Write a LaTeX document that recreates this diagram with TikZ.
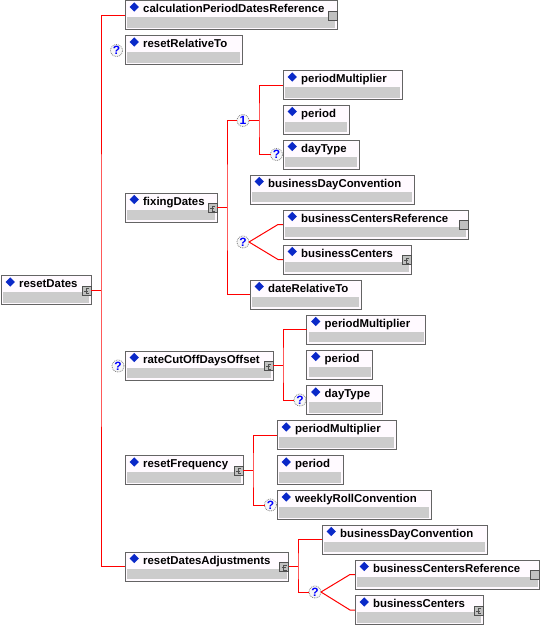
\documentclass[tikz,border=0pt]{standalone}
\usepackage{fontspec}
\setmainfont{Liberation Sans}
\definecolor{bordc}{RGB}{100,100,100}
\definecolor{topc}{RGB}{255,250,255}
\definecolor{bandc}{RGB}{204,204,204}
\definecolor{redc}{RGB}{255,0,0}
\definecolor{diamc}{RGB}{10,40,200}
\definecolor{iconc}{RGB}{192,192,192}
\definecolor{iconb}{RGB}{80,80,80}
\definecolor{qblue}{RGB}{0,0,255}
\tikzset{
  elem/.style={draw=bordc, fill=topc, line width=1pt, minimum height=29pt, inner sep=0pt, outer sep=0pt, anchor=north west},
  band/.style={fill=bandc},
  diam/.style={fill=diamc},
  lbl/.style={anchor=base west, inner sep=0pt, font=\bfseries\fontsize{11.4}{13}\selectfont},
  conn/.style={draw=redc, line width=1pt},
  icon/.style={draw=iconb, fill=iconc, line width=0.8pt},
  glyph/.style={draw=iconb, line width=0.8pt},
  occ/.style={circle, draw=gray, densely dotted, line width=0.8pt, fill=white!94!gray, minimum size=12pt, inner sep=0pt, outer sep=0pt, text=qblue, font=\bfseries\fontsize{12}{12}\selectfont}
}
\newcommand{\elem}[5]{%
  \node[elem, minimum width=#4pt] (#1) at (#2,#3) {};
  \fill[band] ([shift={(2,16.5)}]#1.north west) rectangle ([shift={(-2,-2)}]#1.south east);
  \fill[diam] ([shift={(9.3,6.5)}]#1.north west) +(-4.6,0) -- +(0,-4.6) -- +(4.6,0) -- +(0,4.6) -- cycle;
  \node[lbl] (#1-t) at ([shift={(18,12)}]#1.north west) {#5};
}
\newcommand{\expicon}[1]{%
  \draw[icon] ([shift={(-9,10.5)}]#1.north east) rectangle ++(9,9);
  \draw[glyph] ([shift={(-2,13)}]#1.north east) -- ++(-3,0) -- ++(0,5) -- ++(3,0);
  \draw[glyph] ([shift={(-7,15.5)}]#1.north east) -- ++(4,0);
}
\newcommand{\refico}[1]{%
  \draw[icon] ([shift={(-9,10.5)}]#1.north east) rectangle ++(9,9);
}
\begin{document}
\begin{tikzpicture}[x=1pt,y=-1pt]
\fill[white] (0,0) rectangle (540,625);
\useasboundingbox (0,0) rectangle (540,625);

\elem{resetDates}{1}{275.5}{90}{resetDates}
\expicon{resetDates}

\elem{calcRef}{125}{0.5}{212}{calculationPeriodDatesReference}
\refico{calcRef}
\elem{resetRelativeTo}{125}{35.5}{117}{resetRelativeTo}
\node[occ] (q0) at (116.5,50.5) {?};

\elem{fixingDates}{125}{193}{92}{fixingDates}
\expicon{fixingDates}
\node[occ] (c1) at (243,120.5) {1};
\elem{pm1}{283}{70.5}{119}{periodMultiplier}
\elem{per1}{283}{105}{66}{period}
\elem{dt1}{283}{140}{76}{dayType}
\node[occ] (q1) at (276.5,154.5) {?};
\elem{bdc1}{250}{175}{164}{businessDayConvention}
\node[occ] (q2) at (243,242) {?};
\elem{bcr1}{283}{210}{185}{businessCentersReference}
\refico{bcr1}
\elem{bc1}{283}{245}{128}{businessCenters}
\expicon{bc1}
\elem{drt}{250}{280}{111}{dateRelativeTo}

\elem{rco}{125}{351}{148}{rateCutOffDaysOffset}
\expicon{rco}
\node[occ] (q3) at (118,366) {?};
\elem{pm2}{306.5}{315}{119}{periodMultiplier}
\elem{per2}{306.5}{350}{66}{period}
\elem{dt2}{306.5}{385.5}{76}{dayType}
\node[occ] (q4) at (300,400) {?};

\elem{rf}{125}{455.5}{118}{resetFrequency}
\expicon{rf}
\elem{pm3}{277}{420.5}{119}{periodMultiplier}
\elem{per3}{277}{455.5}{66}{period}
\elem{wrc}{277}{490.5}{154}{weeklyRollConvention}
\node[occ] (q5) at (270.5,505) {?};

\elem{rda}{125}{552}{163.5}{resetDatesAdjustments}
\expicon{rda}
\elem{bdc2}{322}{525}{165}{businessDayConvention}
\node[occ] (q6) at (315,592) {?};
\elem{bcr2}{355}{560}{184.5}{businessCentersReference}
\refico{bcr2}
\elem{bc2}{355}{595.5}{128}{businessCenters}
\expicon{bc2}

% connectors
\coordinate (mb) at (101,290);
\draw[conn] (resetDates.east) -- (mb);
\draw[conn] (calcRef.west) -| (mb) |- (rda.west);

\coordinate (fb) at (227,207.5);
\draw[conn] (fixingDates.east) -- (fb);
\draw[conn] (c1.west) -| (fb) |- (drt.west);
\coordinate (fb1) at (259,120.5);
\draw[conn] (c1.east) -- (fb1);
\draw[conn] (pm1.west) -| (fb1) |- (q1.west);
\draw[conn] (q2.east) -- ([xshift=-5pt]bcr1.west) -- (bcr1.west);
\draw[conn] (q2.east) -- ([xshift=-5pt]bc1.west) -- (bc1.west);

\coordinate (rb) at (283,365.5);
\draw[conn] (rco.east) -- (rb);
\draw[conn] (pm2.west) -| (rb) |- (q4.west);

\coordinate (fqb) at (253,470);
\draw[conn] (rf.east) -- (fqb);
\draw[conn] (pm3.west) -| (fqb) |- (q5.west);

\coordinate (ab) at (298,566.5);
\draw[conn] (rda.east) -- (ab);
\draw[conn] (bdc2.west) -| (ab) |- (q6.west);
\draw[conn] (q6.east) -- ([xshift=-5pt]bcr2.west) -- (bcr2.west);
\draw[conn] (q6.east) -- ([xshift=-5pt]bc2.west) -- (bc2.west);
\end{tikzpicture}
\end{document}
